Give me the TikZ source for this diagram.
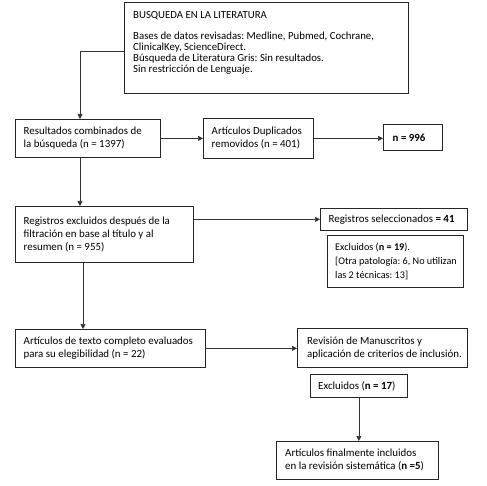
\documentclass[tikz,border=0pt]{standalone}
\usepackage{fontspec}
\setmainfont{Carlito}
\usetikzlibrary{arrows.meta}
\frenchspacing
\tikzset{
  frame/.style={draw=black!85, line width=0.7pt, anchor=north west, inner sep=0pt},
  txt/.style={anchor=west, inner sep=0pt, align=left, font=\fontsize{10.9}{13}\selectfont},
  arr/.style={draw=black!80, line width=0.7pt, -{Triangle[length=5pt,width=5pt]}},
}
\begin{document}
\begin{tikzpicture}[x=1pt,y=-1pt]
\useasboundingbox (0,0) rectangle (487,486);
% frames
\node[frame, minimum width=284pt, minimum height=91pt] (b1) at (124,2) {};
\node[frame, minimum width=145pt, minimum height=38pt] (b2) at (15,119) {};
\node[frame, minimum width=110pt, minimum height=40pt] (b3) at (203,118) {};
\node[frame, minimum width=59pt, minimum height=26pt] (b996) at (383,124) {};
\node[frame, minimum width=178pt, minimum height=56pt] (b4) at (15,206) {};
\node[frame, minimum width=147pt, minimum height=22pt] (b5) at (320,208) {};
\node[frame, minimum width=136pt, minimum height=52pt] (b6) at (327,235) {};
\node[frame, minimum width=190pt, minimum height=38pt] (b7) at (15,329) {};
\node[frame, minimum width=170pt, minimum height=39pt] (b8) at (297,328) {};
\node[frame, minimum width=97pt, minimum height=23pt] (b9) at (310,374) {};
\node[frame, minimum width=162pt, minimum height=38pt] (b10) at (276,441) {};
% texts
\node[txt, font=\fontsize{10.8}{11}\selectfont, anchor=north west] (t1) at (133,11)
  {BUSQUEDA EN LA LITERATURA\\[10pt]
   Bases de datos revisadas: Medline, Pubmed, Cochrane,\\
   ClinicalKey, ScienceDirect.\\
   Búsqueda de Literatura Gris: Sin resultados.\\
   Sin restricción de Lenguaje.};
\node[txt] (t2) at ([xshift=8.5pt]b2.west) {Resultados combinados de\\ la búsqueda (n = 1397)};
\node[txt] (t3) at ([xshift=8.5pt]b3.west) {Artículos Duplicados\\ removidos (n = 401)};
\node[txt] (t996) at ([xshift=9.5pt]b996.west) {\textbf{n = 996}};
\node[txt, font=\fontsize{10.9}{13.3}\selectfont] (t4) at ([xshift=8.5pt]b4.west)
  {Registros excluidos después de la\\ filtración en base al título y al\\ resumen (n = 955)};
\node[txt] (t5) at ([xshift=8.5pt]b5.west) {Registros seleccionados \textbf{= 41}};
\node[txt, font=\fontsize{10.2}{14.3}\selectfont] (t6) at ([xshift=8pt]b6.west)
  {Excluidos (\textbf{n = 19}).\\ {[}Otra patología: 6, No utilizan\\ las 2 técnicas: 13{]}};
\node[txt] (t7) at ([xshift=8.5pt]b7.west) {Artículos de texto completo evaluados\\ para su elegibilidad (n = 22)};
\node[txt] (t8) at ([xshift=10pt]b8.west) {Revisión de Manuscritos y\\ aplicación de criterios de inclusión.};
\node[txt] (t9) at ([xshift=8pt]b9.west) {Excluidos (\textbf{n = 17})};
\node[txt] (t10) at ([xshift=9pt]b10.west) {Artículos finalmente incluidos\\ en la revisión sistemática (\textbf{n =5})};
% connectors
\coordinate (c1) at (80,51);
\coordinate (c2) at (83,300);
\draw[arr] (b1.west |- c1) -- (c1) -- (c1 |- b2.north);
\draw[arr] (b2.east) -- (b3.west |- b2.east);
\draw[arr] (b3.east) -- (b996.west |- b3.east);
\draw[arr] (b2.south -| c1) -- (b4.north -| c1);
\draw[arr] (b4.east |- b5.west) -- (b5.west);
\draw[arr] (b4.south -| c2) -- (b7.north -| c2);
\draw[arr] (b7.east) -- (b8.west |- b7.east);
\draw[arr] (b9.south) -- (b10.north -| b9.south);
\end{tikzpicture}
\end{document}
